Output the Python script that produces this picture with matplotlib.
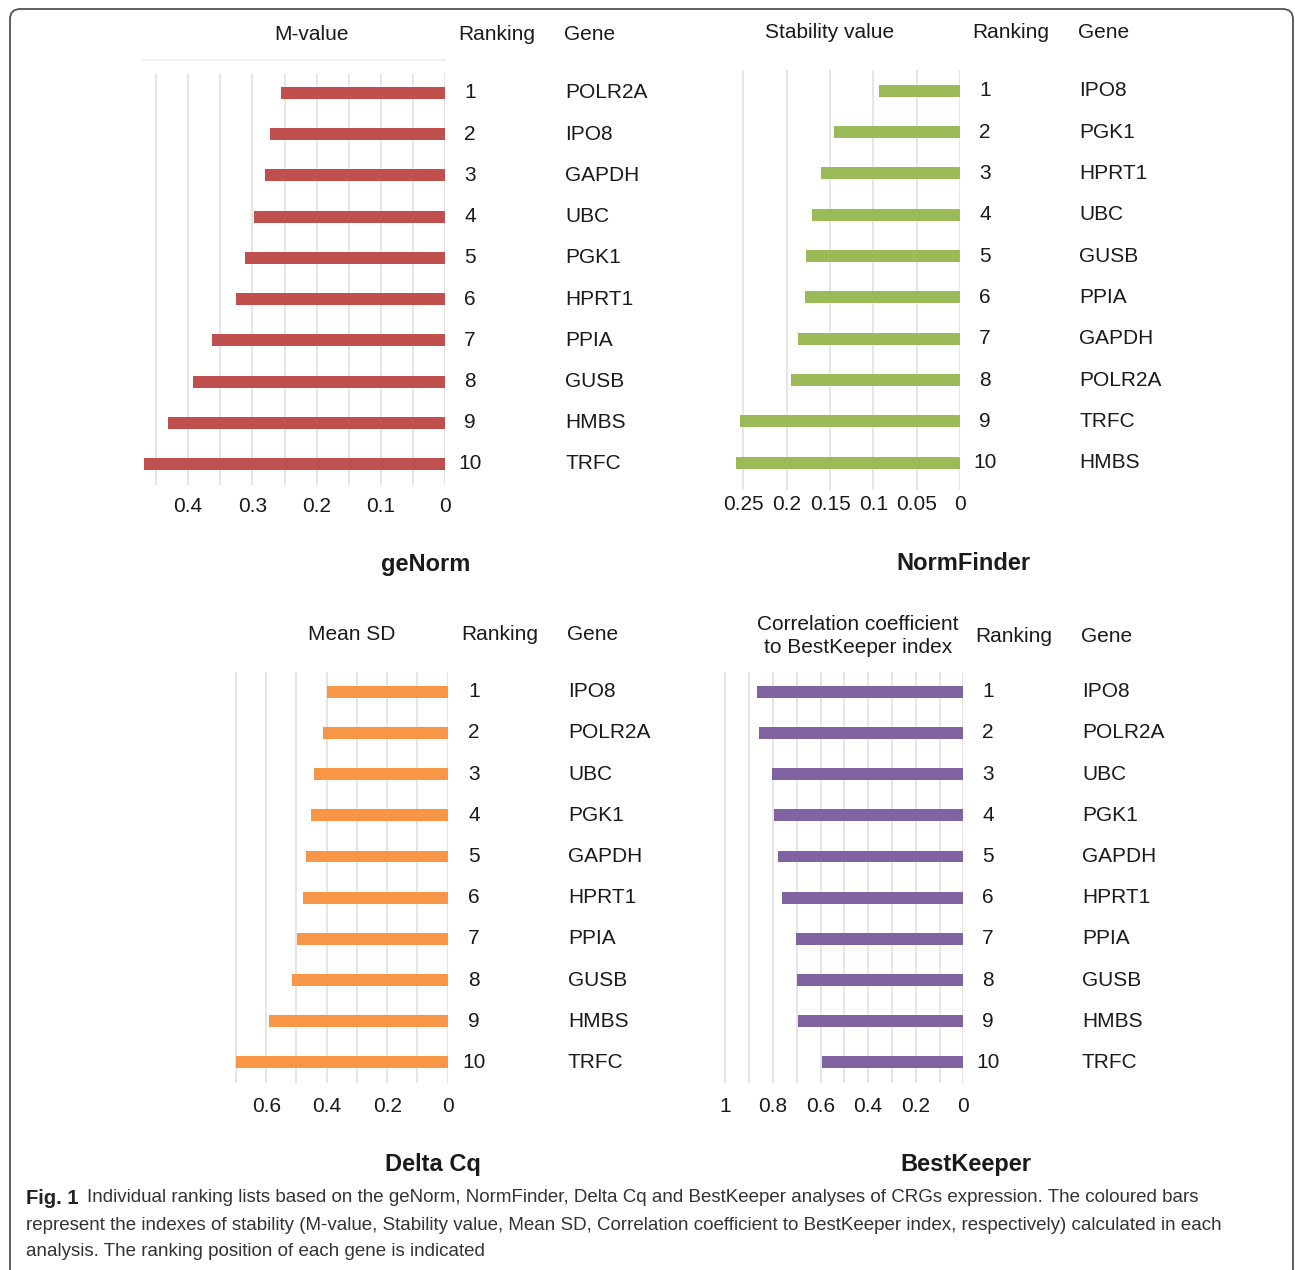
import matplotlib
matplotlib.use('Agg')
import matplotlib.pyplot as plt
import matplotlib.transforms as mtransforms
from matplotlib.patches import FancyBboxPatch

# data
ranks = [1, 2, 3, 4, 5, 6, 7, 8, 9, 10]

genorm_genes = ['POLR2A', 'IPO8', 'GAPDH', 'UBC', 'PGK1', 'HPRT1', 'PPIA', 'GUSB', 'HMBS', 'TRFC']
genorm_mvalue = [0.255, 0.273, 0.280, 0.298, 0.311, 0.326, 0.362, 0.392, 0.431, 0.469]

normfinder_genes = ['IPO8', 'PGK1', 'HPRT1', 'UBC', 'GUSB', 'PPIA', 'GAPDH', 'POLR2A', 'TRFC', 'HMBS']
normfinder_stability = [0.094, 0.146, 0.161, 0.171, 0.178, 0.179, 0.187, 0.195, 0.254, 0.258]

deltacq_genes = ['IPO8', 'POLR2A', 'UBC', 'PGK1', 'GAPDH', 'HPRT1', 'PPIA', 'GUSB', 'HMBS', 'TRFC']
deltacq_meansd = [0.398, 0.414, 0.443, 0.453, 0.467, 0.478, 0.497, 0.516, 0.592, 0.701]

bestkeeper_genes = ['IPO8', 'POLR2A', 'UBC', 'PGK1', 'GAPDH', 'HPRT1', 'PPIA', 'GUSB', 'HMBS', 'TRFC']
bestkeeper_corr = [0.867, 0.860, 0.804, 0.797, 0.780, 0.761, 0.705, 0.699, 0.695, 0.592]

W, H = 1295, 1270
fig = plt.figure(figsize=(W / 100, H / 100), dpi=100)
plt.rcParams['font.family'] = ['Liberation Sans', 'DejaVu Sans']

GRID = '#e2e2e2'
TXT = '#1a1a1a'


def fx(x):
    return x / W


def fy(y):
    return 1 - y / H


def make_panel(left, right, top, bottom, xmax, values, genes, color, grid_ticks,
               label_ticks, ylim, rank_x, gene_x, label_y):
    ax = fig.add_axes([fx(left), fy(bottom), fx(right - left), (bottom - top) / H])
    ax.set_xlim(xmax, 0)
    ax.set_ylim(*ylim)
    ax.vlines(grid_ticks, ylim[1], ylim[0], color=GRID, lw=1.2, zorder=1)
    ax.barh(ranks, values, height=0.29, color=color, zorder=2)
    for s in ax.spines.values():
        s.set_visible(False)
    ax.set_yticks([])
    ax.set_xticks([])
    # tick labels under the plot
    for t in label_ticks:
        xp = ax.transData.transform((t, 0))[0]
        fig.text(xp / W, fy(label_y), '%g' % t, ha='center', va='center',
                 fontsize=15, color=TXT)
    trans = mtransforms.blended_transform_factory(fig.transFigure, ax.transData)
    for r, g in zip(ranks, genes):
        ax.text(fx(rank_x), r, str(r), transform=trans, ha='center', va='center',
                fontsize=15, color=TXT, clip_on=False)
        ax.text(fx(gene_x), r, g, transform=trans, ha='left', va='center',
                fontsize=15, color=TXT, clip_on=False)
    return ax


# geNorm
ax1 = make_panel(143, 445.3, 73, 485, 0.47, genorm_mvalue, genorm_genes, '#c0504d',
                 [0.45, 0.4, 0.35, 0.3, 0.25, 0.2, 0.15, 0.1, 0.05, 0.0],
                 [0.4, 0.3, 0.2, 0.1, 0.0], (10.51, 0.515), 470, 565, 506)
ax1.plot([0.47, 0], [0.2, 0.2], color='#eeeeee', lw=1.2, clip_on=False)

# NormFinder
make_panel(734.6, 960.3, 70, 490, 0.26, normfinder_stability, normfinder_genes, '#9bbb59',
           [0.25, 0.2, 0.15, 0.1, 0.05, 0.0],
           [0.25, 0.2, 0.15, 0.1, 0.05, 0.0], (10.66, 0.5), 985, 1079, 505)

# Delta Cq
make_panel(234.5, 447.7, 672, 1083, 0.705, deltacq_meansd, deltacq_genes, '#f79646',
           [0.7, 0.6, 0.5, 0.4, 0.3, 0.2, 0.1, 0.0],
           [0.6, 0.4, 0.2, 0.0], (10.5, 0.52), 474, 568, 1107)

# BestKeeper
make_panel(723, 963.3, 672, 1083, 1.01, bestkeeper_corr, bestkeeper_genes, '#8064a2',
           [1.0, 0.9, 0.8, 0.7, 0.6, 0.5, 0.4, 0.3, 0.2, 0.1, 0.0],
           [1.0, 0.8, 0.6, 0.4, 0.2, 0.0], (10.5, 0.52), 988, 1082, 1107)

# column headers
headers = [
    (311, 35, 'M-value'), (497, 35, 'Ranking'), (590, 35, 'Gene'),
    (830, 33, 'Stability value'), (1011, 33, 'Ranking'), (1104, 33, 'Gene'),
    (352, 635, 'Mean SD'), (500, 635, 'Ranking'), (593, 635, 'Gene'),
    (858, 636, 'Correlation coefficient\nto BestKeeper index'), (1014, 636, 'Ranking'),
    (1107, 636, 'Gene'),
]
for x, y, s in headers:
    fig.text(fx(x), fy(y), s, ha='center', va='center', fontsize=15, color=TXT,
             linespacing=1.25)

titles = [(426, 565, 'geNorm'), (963, 563, 'NormFinder'), (433, 1165, 'Delta Cq'),
          (966, 1165, 'BestKeeper')]
for x, y, s in titles:
    fig.text(fx(x), fy(y), s, ha='center', va='center', fontsize=17, fontweight='bold',
             color=TXT)

# caption, size fitted so line 2 spans the same width as in the paper
cap_lines = [
    (87, 1198, 'Individual ranking lists based on the geNorm, NormFinder, Delta Cq and '
               'BestKeeper analyses of CRGs expression. The coloured bars'),
    (26, 1225, 'represent the indexes of stability (M-value, Stability value, Mean SD, '
               'Correlation coefficient to BestKeeper index, respectively) calculated in each'),
    (26, 1251, 'analysis. The ranking position of each gene is indicated'),
]
renderer = fig.canvas.get_renderer()
probe = fig.text(0, 0, cap_lines[1][2], fontsize=14)
w = probe.get_window_extent(renderer).width
probe.remove()
cap_size = 14 * (1235 - 26) / w

fig.text(fx(26), fy(1198), 'Fig. 1', ha='left', va='center', fontsize=cap_size + 1,
         fontweight='bold', color='#222222')
for x, y, s in cap_lines:
    fig.text(fx(x), fy(y), s, ha='left', va='center', fontsize=cap_size,
             color='#333333')

# rounded frame
frame = FancyBboxPatch((fx(10), fy(1290)), fx(1283), (1290 - 9) / H,
                       boxstyle='round,pad=0,rounding_size=0.008',
                       transform=fig.transFigure, fill=False, ec='#555555', lw=1.3)
fig.patches.append(frame)

fig.savefig('out.png', dpi=100)
